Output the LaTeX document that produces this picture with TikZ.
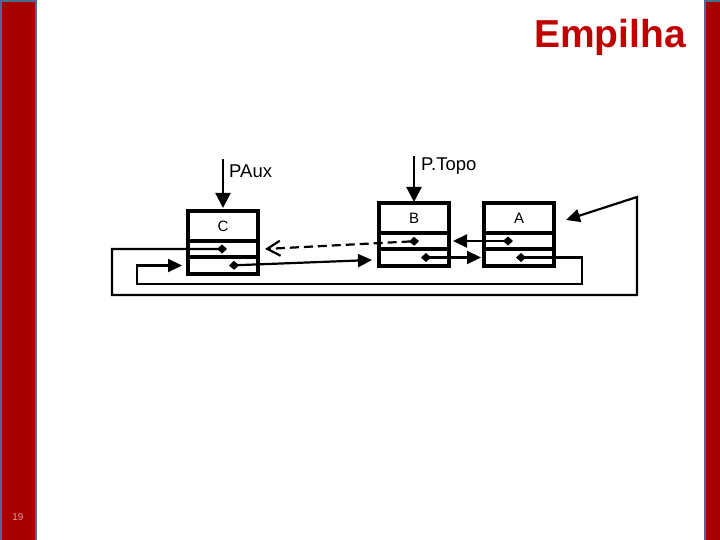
\documentclass[tikz,border=0pt]{standalone}
\usepackage{fontspec}
\setmainfont{Liberation Sans}
\usepackage{tikz}
\usetikzlibrary{arrows.meta,positioning}
\definecolor{barred}{HTML}{A80000}
\definecolor{barblue}{HTML}{4F6A8F}
\definecolor{titlered}{HTML}{C00000}
\definecolor{pagenum}{HTML}{D9A0A0}

\begin{document}
\begin{tikzpicture}[x=1pt, y=-1pt, node distance=0pt,
  every node/.style={font=\fontsize{15}{18}\selectfont},
  field/.style={draw, line width=3.2pt, minimum width=70pt, outer sep=0pt, inner sep=0pt},
  ptr/.style={line width=2.2pt, {Diamond[length=10pt,width=9pt]}-{Triangle[length=14pt,width=13pt]}},
  lbl/.style={inner sep=0pt, anchor=base west, font=\fontsize{18.5}{22}\selectfont}]
\useasboundingbox (0,0) rectangle (720,540);
\fill[white] (0,0) rectangle (720,540);
\draw[barblue, line width=2pt, fill=barred] (1,1) rectangle (36,541);
\draw[barblue, line width=2pt, fill=barred] (705,1) rectangle (721,541);
\node[font=\fontsize{39}{44}\selectfont\bfseries, text=titlered, anchor=base east, inner sep=0pt] (title) at (686,48) {Empilha};
\node[font=\fontsize{10}{12}\selectfont, text=pagenum] (pageNum) at (18,517) {19};

\node[field, minimum height=30pt] (cInfo) at (223,226) {C};
\node[field, minimum height=16pt, below=of cInfo] (cMid) {};
\node[field, minimum height=17pt, below=of cMid] (cBot) {};
\node[field, minimum height=30pt] (bInfo) at (414,218) {B};
\node[field, minimum height=16pt, below=of bInfo] (bMid) {};
\node[field, minimum height=17pt, below=of bMid] (bBot) {};
\node[field, minimum height=30pt, right=35pt of bInfo] (aInfo) {A};
\node[field, minimum height=16pt, below=of aInfo] (aMid) {};
\node[field, minimum height=17pt, below=of aMid] (aBot) {};

\coordinate (pauxTail) at (223,159);
\coordinate (ptopoTail) at (414,156);
\node[lbl] (pauxLbl) at (229,178) {PAux};
\node[lbl] (ptopoLbl) at (421,171) {P.Topo};
\draw[line width=2.2pt, -{Triangle[length=15pt,width=15pt]}] (pauxTail) -- ([yshift=3pt]cInfo.north);
\draw[line width=2.2pt, -{Triangle[length=15pt,width=15pt]}] (ptopoTail) -- ([yshift=1pt]bInfo.north);

\coordinate (outerL) at (112,295);
\coordinate (outerR) at (637,197);
\coordinate (innerR) at (582,284);
\coordinate (innerL) at (137,284);
\draw[ptr] ([xshift=4pt]cMid.center) -| (outerL) -| (outerR) -- ([xshift=12pt,yshift=-2pt]aInfo.east);
\draw[ptr] ([xshift=-3pt]aBot.center) -| (innerR) -- (innerL) |- ([xshift=-6pt]cBot.west);
\draw[ptr] ([xshift=6pt]cBot.center) -- ([xshift=-7pt,yshift=-2.5pt]bBot.west);
\draw[ptr] ([xshift=7pt]bBot.center) -- ([xshift=-3pt]aBot.west);
\draw[ptr] ([xshift=-6pt]aMid.center) -- ([xshift=4pt]bMid.east);
\draw[line width=2.2pt, dash pattern=on 9pt off 5pt, {Diamond[length=10pt,width=9pt]}-{Straight Barb[length=13pt,width=15pt]}] ([xshift=5pt]bMid.center) -- ([xshift=7pt]cMid.east);
\end{tikzpicture}
\end{document}
